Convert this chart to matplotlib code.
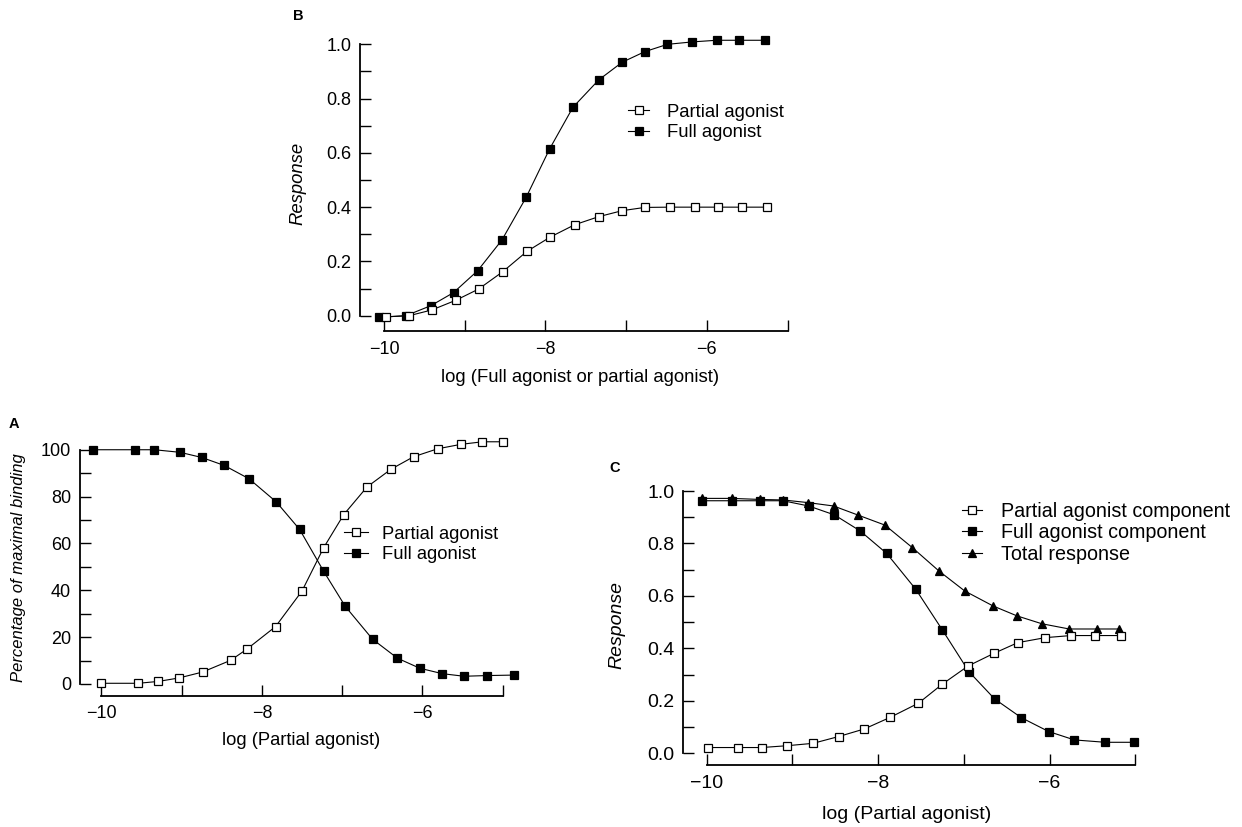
import matplotlib
matplotlib.use("Agg")
import matplotlib.pyplot as plt
from matplotlib.ticker import MultipleLocator

plt.rcParams['font.family'] = ['Liberation Sans', 'DejaVu Sans']

W, H = 1242, 827

# panel B: response vs log concentration
b_full_x = [-10.06, -9.73, -9.42, -9.14, -8.84, -8.54, -8.24, -7.95, -7.66,
            -7.34, -7.05, -6.77, -6.49, -6.18, -5.88, -5.60, -5.28]
b_full_y = [-0.006, 0.0, 0.037, 0.085, 0.166, 0.279, 0.436, 0.614, 0.768,
            0.869, 0.934, 0.973, 1.0, 1.009, 1.015, 1.015, 1.015]
b_part_x = [-9.98, -9.69, -9.41, -9.11, -8.83, -8.53, -8.23, -7.94, -7.64,
            -7.34, -7.05, -6.77, -6.46, -6.15, -5.86, -5.57, -5.26]
b_part_y = [-0.004, 0.0, 0.021, 0.057, 0.098, 0.162, 0.237, 0.29, 0.335,
            0.365, 0.387, 0.399, 0.40, 0.40, 0.40, 0.40, 0.40]

# panel A: binding
a_full_x = [-10.11, -9.58, -9.34, -9.02, -8.75, -8.47, -8.16, -7.82, -7.53,
            -7.23, -6.96, -6.62, -6.31, -6.03, -5.75, -5.48, -5.19, -4.86]
a_full_y = [100, 100, 100, 98.9, 96.7, 93.3, 87.6, 77.7, 66.0,
            48.1, 33.1, 19.1, 11.0, 6.7, 4.4, 3.3, 3.6, 3.8]
a_part_x = [-10.0, -9.54, -9.29, -9.03, -8.74, -8.39, -8.19, -7.83, -7.50,
            -7.23, -6.98, -6.69, -6.39, -6.11, -5.81, -5.52, -5.25, -5.0]
a_part_y = [0.3, 0.3, 1.1, 2.6, 5.1, 10.1, 14.8, 24.5, 39.7,
            58.2, 72.3, 84.1, 91.7, 97.0, 100.4, 102.3, 103.4, 103.4]

# panel C: components of response
c_full_x = [-10.06, -9.71, -9.38, -9.11, -8.81, -8.51, -8.21, -7.90, -7.56,
            -7.25, -6.94, -6.64, -6.33, -6.01, -5.71, -5.35, -5.02]
c_full_y = [0.963, 0.963, 0.963, 0.963, 0.943, 0.909, 0.848, 0.762, 0.625,
            0.470, 0.311, 0.207, 0.136, 0.083, 0.051, 0.042, 0.042]
c_total_x = [-10.05, -9.71, -9.38, -9.11, -8.82, -8.52, -8.24, -7.92, -7.60,
             -7.29, -6.99, -6.66, -6.38, -6.09, -5.77, -5.45, -5.19]
c_total_y = [0.972, 0.972, 0.968, 0.966, 0.956, 0.943, 0.909, 0.870, 0.784,
             0.695, 0.619, 0.562, 0.524, 0.494, 0.474, 0.474, 0.474]
c_part_x = [-9.99, -9.64, -9.36, -9.06, -8.76, -8.46, -8.16, -7.86, -7.53,
            -7.25, -6.95, -6.65, -6.37, -6.05, -5.75, -5.47, -5.17]
c_part_y = [0.022, 0.022, 0.022, 0.029, 0.038, 0.064, 0.093, 0.137, 0.191,
            0.264, 0.333, 0.381, 0.422, 0.441, 0.449, 0.449, 0.449]

x_ticks = [-10, -8, -6]


def px_axes(fig, left, right, top, bottom):
    # pixel box (from top-left) -> figure fraction
    return fig.add_axes([left / W, 1 - bottom / H, (right - left) / W, (bottom - top) / H])


def style(ax, xlim, ylim, ybounds, ymajor, yminor, fmt, fs):
    ax.set_xlim(*xlim)
    ax.set_ylim(*ylim)
    for s in ("top", "right"):
        ax.spines[s].set_visible(False)
    for s in ("left", "bottom"):
        ax.spines[s].set_linewidth(1.3)
    ax.spines["left"].set_bounds(*ybounds)
    ax.spines["bottom"].set_bounds(-10, -5)
    ax.set_xticks(x_ticks)
    ax.xaxis.set_minor_locator(MultipleLocator(1))
    ax.yaxis.set_major_locator(MultipleLocator(ymajor))
    ax.yaxis.set_minor_locator(MultipleLocator(yminor))
    ax.set_yticks([t for t in ax.get_yticks() if ybounds[0] - 1e-9 <= t <= ybounds[1] + 1e-9])
    ax.set_yticklabels([fmt.format(t) for t in ax.get_yticks()])
    ax.set_xticklabels(["\u221210", "\u22128", "\u22126"])
    ax.tick_params(which="both", direction="in", length=8, width=1, labelsize=fs)
    ax.tick_params(axis="y", pad=6)
    ax.tick_params(axis="x", pad=7)


def line(ax, x, y, marker, filled, ms, label):
    ax.plot(x, y, color="black", lw=0.8, marker=marker, ms=ms,
            mfc="black" if filled else "white", mec="black", mew=0.9,
            label=label, clip_on=False, zorder=3 if filled else 4)


def legend(ax, fig, left, cy, fs, hl, tp, sp):
    ax.legend(loc="center left", bbox_to_anchor=(left / W, 1 - cy / H),
              bbox_transform=fig.transFigure, frameon=False, fontsize=fs,
              handlelength=hl, handletextpad=tp, labelspacing=sp,
              borderpad=0, borderaxespad=0)


def main():
    fig = plt.figure(figsize=(W / 100, H / 100), dpi=100)

    # B
    ax = px_axes(fig, 359.9, 789.2, 36.2, 331)
    line(ax, b_part_x, b_part_y, "s", False, 5.8, "Partial agonist")
    line(ax, b_full_x, b_full_y, "s", True, 5.8, "Full agonist")
    style(ax, (-10.30, -4.98), (-0.0564, 1.03), (0, 1), 0.2, 0.1, "{:.1f}", 13)
    ax.set_ylabel("Response", fontsize=13.3, style="italic", labelpad=14.5)
    ax.set_xlabel("log (Full agonist or partial agonist)", fontsize=13.3)
    ax.xaxis.set_label_coords(0.514, -0.129)
    legend(ax, fig, 628, 122.4, 13.3, 1.15, 0.95, 0.2)
    fig.text(298.5 / W, 1 - 15.5 / H, "B", fontsize=10.5, weight="bold", ha="center", va="center")

    # A
    ax = px_axes(fig, 79.5, 522.6, 439.2, 695.7)
    line(ax, a_part_x, a_part_y, "s", False, 5.6, "Partial agonist")
    line(ax, a_full_x, a_full_y, "s", True, 5.6, "Full agonist")
    style(ax, (-10.274, -4.75), (-5.0, 104.5), (0, 100), 20, 10, "{:.0f}", 13)
    ax.set_ylabel("Percentage of maximal binding", fontsize=12, style="italic", labelpad=10.5)
    ax.set_xlabel("log (Partial agonist)", fontsize=13.2, labelpad=7)
    legend(ax, fig, 344, 544.5, 13.2, 1.3, 0.75, 0.2)
    fig.text(14 / W, 1 - 424 / H, "A", fontsize=10.5, weight="bold", ha="center", va="center")

    # C
    ax = px_axes(fig, 683.2, 1143.8, 485.8, 765)
    line(ax, c_part_x, c_part_y, "s", False, 6.2, "Partial agonist component")
    line(ax, c_full_x, c_full_y, "s", True, 6.2, "Full agonist component")
    line(ax, c_total_x, c_total_y, "^", True, 6.2, "Total response")
    style(ax, (-10.275, -4.9), (-0.0446, 1.02), (0, 1), 0.2, 0.1, "{:.1f}", 14)
    ax.set_ylabel("Response", fontsize=14, style="italic", labelpad=16)
    ax.set_xlabel("log (Partial agonist)", fontsize=14)
    ax.xaxis.set_label_coords(0.486, -0.147)
    legend(ax, fig, 962, 532.9, 14.2, 1.0, 1.0, 0.12)
    fig.text(615 / W, 1 - 468.5 / H, "C", fontsize=10.5, weight="bold", ha="center", va="center")

    fig.savefig("out.png", dpi=100, facecolor="white")


if __name__ == '__main__':
    main()
